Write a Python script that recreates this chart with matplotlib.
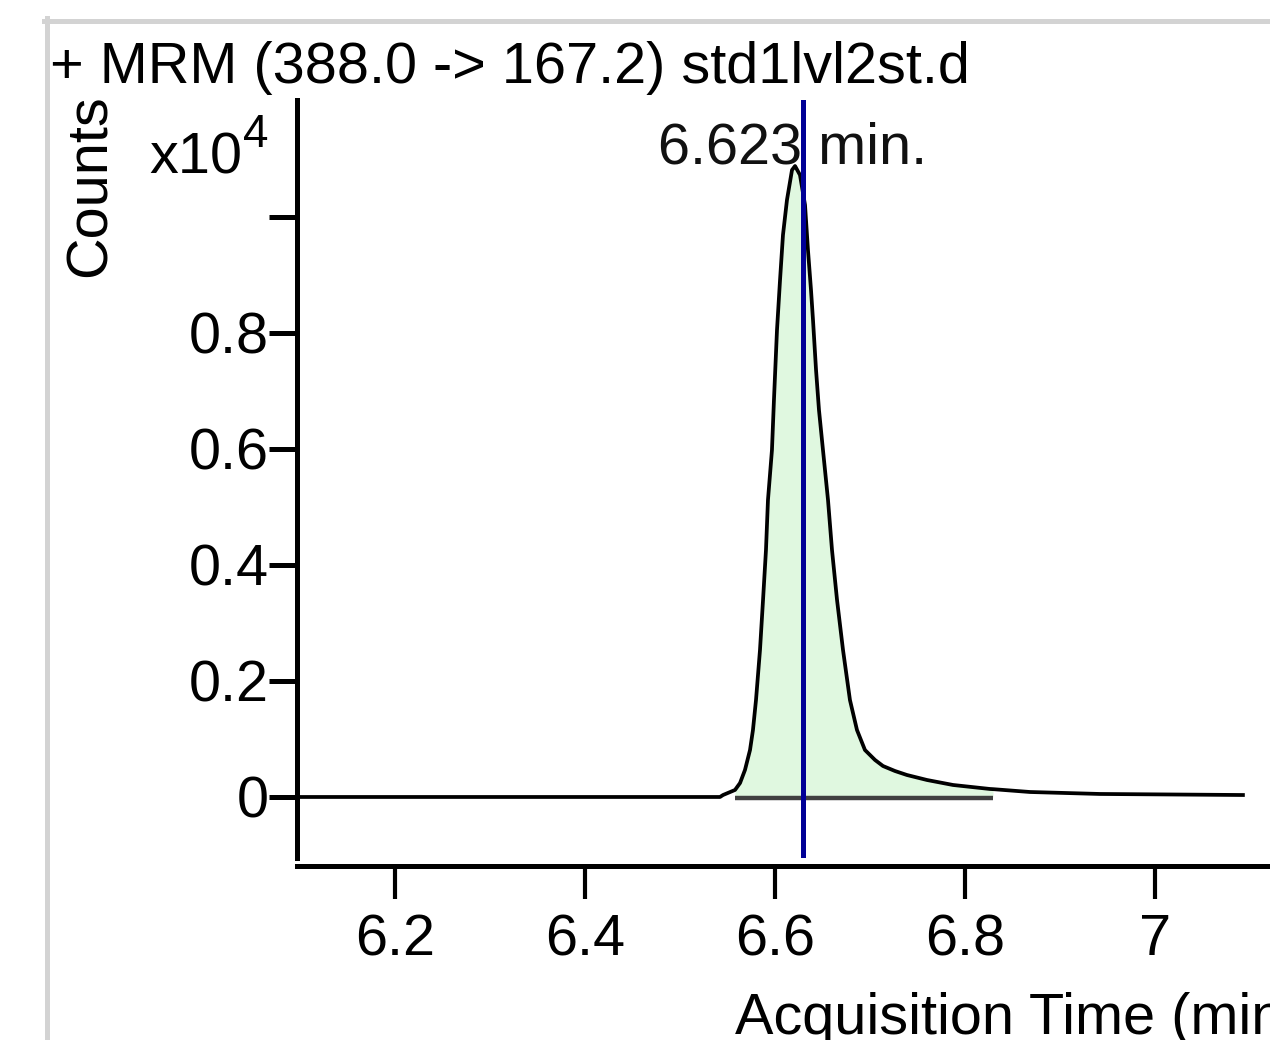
import matplotlib
matplotlib.use('Agg')
import matplotlib.pyplot as plt
from matplotlib.lines import Line2D
import numpy as np

# ---- data ----
time_min = [6.1000, 6.5421, 6.5453, 6.5579, 6.5632, 6.5684, 6.5737, 6.5768, 6.5800,
            6.5842, 6.5874, 6.5905, 6.5926, 6.5968, 6.5989, 6.6021, 6.6053, 6.6084,
            6.6126, 6.6179, 6.6211, 6.6263, 6.6316, 6.6347, 6.6379, 6.6400, 6.6432,
            6.6463, 6.6505, 6.6558, 6.6600, 6.6653, 6.6716, 6.6789, 6.6863, 6.6947,
            6.7053, 6.7137, 6.7263, 6.7389, 6.7600, 6.7874, 6.8263, 6.8295, 6.8684,
            6.9421, 7.0926]
counts = [0, 0, 34, 121, 241, 466, 810, 1155, 1672,
          2534, 3397, 4259, 5121, 5983, 6845, 8052, 8914, 9690,
          10293, 10810, 10879, 10724, 10207, 9431, 8741, 8224, 7362,
          6672, 5983, 5121, 4259, 3397, 2534, 1672, 1155, 810,
          638, 534, 448, 379, 293, 207, 138, 135, 86,
          52, 34]
integ_start, integ_end = 6.5579, 6.8295
rt_line_pos = 6.6295
rt_label = "6.623 min."
rt_label_time = 6.619
rt_label_height = 10930
x_ticks = [6.2, 6.4, 6.6, 6.8, 7.0]
x_tick_labels = ['6.2', '6.4', '6.6', '6.8', '7']
y_ticks = [0, 0.2, 0.4, 0.6, 0.8, 1.0]
y_tick_labels = ['0', '0.2', '0.4', '0.6', '0.8', '']
title = "+ MRM (388.0 -> 167.2) std1lvl2st.d"
x_label = "Acquisition Time (min)"
y_label = "Counts"

W, H = 1270, 1040
plt.rcParams['font.family'] = ['Liberation Sans', 'DejaVu Sans']
FS = 41.5

fig = plt.figure(figsize=(W / 100, H / 100), dpi=100)
fig.patch.set_facecolor('white')

ax = fig.add_axes([297 / W, 1 - 858 / H, (W - 297) / W, (858 - 100) / H])
t = np.array(time_min)
c = np.array(counts) / 1e4

mask = (t >= integ_start) & (t <= integ_end)
ax.fill_between(t[mask], 0, c[mask], color='#e0f8e0', lw=0, zorder=1)
ax.plot([integ_start, integ_end], [-0.002, -0.002], color='#404040', lw=3.2, zorder=2,
        solid_capstyle='butt')
ax.plot(t, c, color='black', lw=2.7, zorder=3, solid_joinstyle='round')
ax.axvline(rt_line_pos, color='#000096', lw=3.6, zorder=5)
ax.text(rt_label_time, rt_label_height / 1e4, rt_label, ha='center', va='baseline',
        fontsize=FS, color='#111111', zorder=4)

ax.set_xlim(6.0968, 7.1211)
ax.set_ylim(-0.1052, 1.2017)
ax.set_xticks(x_ticks)
ax.set_xticklabels(x_tick_labels)
ax.set_yticks(y_ticks)
ax.set_yticklabels(y_tick_labels)

for s in ['top', 'right']:
    ax.spines[s].set_visible(False)
ax.spines['left'].set_linewidth(3.6)
ax.spines['bottom'].set_linewidth(3.6)
ax.spines['bottom'].set_position(('outward', 5.4))
ax.tick_params(axis='x', direction='out', length=24, width=3.0, pad=10.5,
               labelsize=FS, colors='black')
ax.tick_params(axis='y', direction='out', length=20, width=3.6, pad=0.5,
               labelsize=FS, colors='black')
ax.patch.set_alpha(0)

# figure-level texts
fig.text(50 / W, 1 - 83 / H, title, ha='left', va='baseline', fontsize=FS)
fig.text(735 / W, 1 - 1034 / H, x_label, ha='left', va='baseline', fontsize=FS)
fig.text(91 / W, 1 - 186 / H, y_label, rotation=90, ha='center', va='center', fontsize=FS)
fig.text(149 / W, 1 - 173 / H, 'x10', ha='left', va='baseline', fontsize=FS)
fig.text(243 / W, 1 - 147 / H, '4', ha='left', va='baseline', fontsize=33)

# light gray panel frame
fig.add_artist(Line2D([44 / W, 1], [1 - 20.5 / H] * 2, color='#d3d3d3', lw=3.6,
                      transform=fig.transFigure))
fig.add_artist(Line2D([46.5 / W] * 2, [1 - 18 / H, 0], color='#d3d3d3', lw=3.6,
                      transform=fig.transFigure))

fig.savefig('out.png', dpi=100)
